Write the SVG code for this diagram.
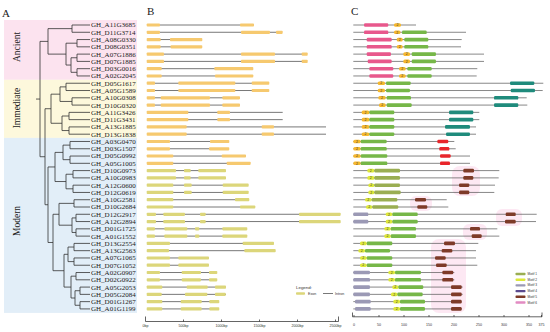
<svg xmlns="http://www.w3.org/2000/svg" width="550" height="332" viewBox="0 0 550 332">
<style>
.t{font-family:"Liberation Serif","Times New Roman",serif;fill:#222}
.pl{font-size:11px}
.gl{font-size:7px}
.cl{font-size:9.5px}
.tree{fill:none;stroke:#333;stroke-width:0.8}
.in{stroke:#555;stroke-width:0.8}
.ex1{fill:#f6c96f}
.ex2{fill:#dcd67a}
.bb{stroke:#555;stroke-width:0.7}
.ax{stroke:#222;stroke-width:0.7;fill:none}
.sm{font-family:"Liberation Sans",Arial,sans-serif;font-size:3.6px;fill:#333}
.mpk{fill:#e8588c}.mor{fill:#f5b82e}.mgr{fill:#76b748}.mte{fill:#1f8b7c}.mrd{fill:#e8252b}
.myl{fill:#dde83a}.mol{fill:#9aae52}.mgy{fill:#9b99b5}.mbr{fill:#7e3a28}.mpu{fill:#5b4a8e}.mpi{fill:#e28bc2}
.hl{fill:#fbd6ea;opacity:0.55}
.n2{font-family:"Liberation Sans",Arial,sans-serif;font-size:3.4px;fill:#333;text-anchor:middle}
</style>
<rect width="550" height="332" fill="#fff"/>

<!-- Panel A -->
<g id="panelA">
<rect x="4" y="20" width="133" height="59.8" fill="#fce3ef"/>
<rect x="4" y="79.8" width="133" height="58.1" fill="#fdf8dc"/>
<rect x="4" y="137.9" width="133" height="175" fill="#e2eef8"/>
<text class="t pl" x="2" y="17">A</text>
<text class="t cl" transform="translate(20,47) rotate(-90)" text-anchor="middle">Ancient</text>
<text class="t cl" transform="translate(20,108) rotate(-90)" text-anchor="middle">Immediate</text>
<text class="t cl" transform="translate(20,221) rotate(-90)" text-anchor="middle">Modern</text>
</g>

<g id="tree">
<path class="tree" d="M90,25H72V32.28H90 M90,39.56H77V46.84H90 M90,54.12H77V61.4H90 M90,68.68H77V75.96H90 M77,57.76H71V72.32H77 M77,43.2H66V65.04H71 M72,28.64H48V54.12H66
M90,83.24H66V90.52H90 M90,97.8H72V105.08H90 M66,86.88H60V101.44H72 M90,112.36H69V119.64H90 M90,126.92H69V134.2H90 M69,116H62V130.56H69 M60,94.16H51V123.28H62
M90,141.48H70V148.76H90 M90,156.04H70V163.32H90 M70,145.12H63V159.68H70 M90,170.6H73V177.88H90 M90,185.16H73V192.44H90 M73,174.24H66V188.8H73 M63,152.4H55V181.52H66
M90,199.72H74V207H90 M90,214.28H76V221.56H90 M90,228.84H76V236.12H90 M76,217.92H72V232.48H76 M74,203.36H59V225.2H72
M90,243.4H74V250.68H90 M90,257.96H74V265.24H90 M74,247.04H68V261.6H74 M90,272.52H76V279.8H90 M90,287.08H80V294.36H90 M90,301.64H80V308.92H90 M80,290.72H75V305.28H80 M76,276.16H71V298H75 M68,254.32H64V287.08H71
M59,214.28H53V270.7H64 M55,166.96H48V242.49H53 M51,108.72H45V204.73H48 M48,41.38H40V156.72H45 M40,99.05H36"/>
</g>

<g id="labels" class="t gl">
<text x="91" y="27.4">GH_A11G3685</text>
<text x="91" y="34.7">GH_D11G3714</text>
<text x="91" y="42">GH_A08G0330</text>
<text x="91" y="49.2">GH_D08G0351</text>
<text x="91" y="56.5">GH_A07G1886</text>
<text x="91" y="63.8">GH_D07G1885</text>
<text x="91" y="71.1">GH_D03G0016</text>
<text x="91" y="78.4">GH_A02G2045</text>
<text x="91" y="85.6">GH_D05G1617</text>
<text x="91" y="92.9">GH_A05G1589</text>
<text x="91" y="100.2">GH_A10G0308</text>
<text x="91" y="107.5">GH_D10G0320</text>
<text x="91" y="114.8">GH_A11G3426</text>
<text x="91" y="122">GH_D11G3431</text>
<text x="91" y="129.3">GH_A13G1885</text>
<text x="91" y="136.6">GH_D13G1838</text>
<text x="91" y="143.9">GH_A03G0470</text>
<text x="91" y="151.2">GH_D03G1507</text>
<text x="91" y="158.4">GH_D05G0992</text>
<text x="91" y="165.7">GH_A05G1005</text>
<text x="91" y="173">GH_D10G0973</text>
<text x="91" y="180.3">GH_A10G0983</text>
<text x="91" y="187.6">GH_A12G0600</text>
<text x="91" y="194.8">GH_D12G0619</text>
<text x="91" y="202.1">GH_A10G2581</text>
<text x="91" y="209.4">GH_D10G2684</text>
<text x="91" y="216.7">GH_D12G2917</text>
<text x="91" y="224">GH_A12G2894</text>
<text x="91" y="231.2">GH_D01G1725</text>
<text x="91" y="238.5">GH_A01G1552</text>
<text x="91" y="245.8">GH_D13G2554</text>
<text x="91" y="253.1">GH_A13G2563</text>
<text x="91" y="260.4">GH_A07G1065</text>
<text x="91" y="267.6">GH_D07G1052</text>
<text x="91" y="274.9">GH_A02G0907</text>
<text x="91" y="282.2">GH_D02G0922</text>
<text x="91" y="289.5">GH_A05G2053</text>
<text x="91" y="296.8">GH_D05G2084</text>
<text x="91" y="304">GH_D01G1267</text>
<text x="91" y="311.3">GH_A01G1199</text>
</g>

<!-- Panel B -->
<g id="panelB">
<text class="t pl" x="147" y="15">B</text>
<g id="introns">
<line class="in" x1="147" y1="25" x2="254" y2="25"/>
<line class="in" x1="147" y1="32.28" x2="282" y2="32.28"/>
<line class="in" x1="147" y1="39.56" x2="202" y2="39.56"/>
<line class="in" x1="147" y1="46.84" x2="202" y2="46.84"/>
<line class="in" x1="147" y1="54.12" x2="307" y2="54.12"/>
<line class="in" x1="147" y1="61.4" x2="307" y2="61.4"/>
<line class="in" x1="147" y1="68.68" x2="253" y2="68.68"/>
<line class="in" x1="147" y1="75.96" x2="253" y2="75.96"/>
<line class="in" x1="147" y1="83.24" x2="269" y2="83.24"/>
<line class="in" x1="147" y1="90.52" x2="269" y2="90.52"/>
<line class="in" x1="147" y1="97.8" x2="240" y2="97.8"/>
<line class="in" x1="147" y1="105.08" x2="240" y2="105.08"/>
<line class="in" x1="147" y1="112.36" x2="282.7" y2="112.36"/>
<line class="in" x1="147" y1="119.64" x2="282.7" y2="119.64"/>
<line class="in" x1="147" y1="126.92" x2="326" y2="126.92"/>
<line class="in" x1="147" y1="134.2" x2="326" y2="134.2"/>
<line class="in" x1="147" y1="141.48" x2="229" y2="141.48"/>
<line class="in" x1="147" y1="148.76" x2="229" y2="148.76"/>
<line class="in" x1="147" y1="156.04" x2="246" y2="156.04"/>
<line class="in" x1="147" y1="163.32" x2="250" y2="163.32"/>
<line class="in" x1="147" y1="170.6" x2="226" y2="170.6"/>
<line class="in" x1="147" y1="177.88" x2="226" y2="177.88"/>
<line class="in" x1="147" y1="185.16" x2="248" y2="185.16"/>
<line class="in" x1="147" y1="192.44" x2="248" y2="192.44"/>
<line class="in" x1="147" y1="199.72" x2="249" y2="199.72"/>
<line class="in" x1="147" y1="207" x2="255" y2="207"/>
<line class="in" x1="147" y1="214.28" x2="340" y2="214.28"/>
<line class="in" x1="147" y1="221.56" x2="340" y2="221.56"/>
<line class="in" x1="147" y1="228.84" x2="247" y2="228.84"/>
<line class="in" x1="147" y1="236.12" x2="247" y2="236.12"/>
<line class="in" x1="147" y1="243.4" x2="274" y2="243.4"/>
<line class="in" x1="147" y1="250.68" x2="275" y2="250.68"/>
<line class="in" x1="147" y1="257.96" x2="209" y2="257.96"/>
<line class="in" x1="147" y1="265.24" x2="209" y2="265.24"/>
<line class="in" x1="147" y1="272.52" x2="217" y2="272.52"/>
<line class="in" x1="147" y1="279.8" x2="217" y2="279.8"/>
<line class="in" x1="147" y1="287.08" x2="226" y2="287.08"/>
<line class="in" x1="147" y1="294.36" x2="226" y2="294.36"/>
<line class="in" x1="147" y1="301.64" x2="219" y2="301.64"/>
<line class="in" x1="147" y1="308.92" x2="219" y2="308.92"/>
</g>
<g id="exons1" class="ex1">
<rect x="146.7" y="23.4" width="13.3" height="3.2" rx="0.8"/><rect x="240" y="23.4" width="14" height="3.2" rx="0.8"/>
<rect x="146.7" y="30.7" width="13.3" height="3.2" rx="0.8"/><rect x="241" y="30.7" width="29" height="3.2" rx="0.8"/><rect x="276" y="30.7" width="6.7" height="3.2" rx="0.8"/>
<rect x="146.7" y="38" width="14" height="3.2" rx="0.8"/><rect x="170" y="38" width="32.3" height="3.2" rx="0.8"/>
<rect x="146.7" y="45.2" width="14" height="3.2" rx="0.8"/><rect x="170.5" y="45.2" width="31.8" height="3.2" rx="0.8"/>
<rect x="146.7" y="52.5" width="17.3" height="3.2" rx="0.8"/><rect x="241" y="52.5" width="34" height="3.2" rx="0.8"/><rect x="301.7" y="52.5" width="6" height="3.2" rx="0.8"/>
<rect x="146.7" y="59.8" width="17.3" height="3.2" rx="0.8"/><rect x="241" y="59.8" width="34" height="3.2" rx="0.8"/><rect x="301.7" y="59.8" width="6" height="3.2" rx="0.8"/>
<rect x="146.7" y="67.1" width="15" height="3.2" rx="0.8"/><rect x="214.3" y="67.1" width="39" height="3.2" rx="0.8"/>
<rect x="146.7" y="74.4" width="15" height="3.2" rx="0.8"/><rect x="215" y="74.4" width="38.3" height="3.2" rx="0.8"/>
<rect x="146.7" y="81.6" width="8.3" height="3.2" rx="0.8"/><rect x="178.3" y="81.6" width="57" height="3.2" rx="0.8"/><rect x="251.7" y="81.6" width="17.6" height="3.2" rx="0.8"/>
<rect x="146.7" y="88.9" width="8.3" height="3.2" rx="0.8"/><rect x="178.3" y="88.9" width="57" height="3.2" rx="0.8"/><rect x="251.7" y="88.9" width="17.6" height="3.2" rx="0.8"/>
<rect x="146.7" y="96.2" width="8.3" height="3.2" rx="0.8"/><rect x="160.7" y="96.2" width="49.3" height="3.2" rx="0.8"/><rect x="222.3" y="96.2" width="17.7" height="3.2" rx="0.8"/>
<rect x="146.7" y="103.5" width="8.3" height="3.2" rx="0.8"/><rect x="160.7" y="103.5" width="49.3" height="3.2" rx="0.8"/><rect x="222.3" y="103.5" width="17.7" height="3.2" rx="0.8"/>
<rect x="146.7" y="110.8" width="41.6" height="3.2" rx="0.8"/><rect x="217.3" y="110.8" width="12.7" height="3.2" rx="0.8"/>
<rect x="146.7" y="118" width="41.6" height="3.2" rx="0.8"/><rect x="217.3" y="118" width="12.7" height="3.2" rx="0.8"/>
<rect x="146.7" y="125.3" width="40" height="3.2" rx="0.8"/><rect x="261.7" y="125.3" width="12.3" height="3.2" rx="0.8"/>
<rect x="146.7" y="132.6" width="40" height="3.2" rx="0.8"/><rect x="261.7" y="132.6" width="12.3" height="3.2" rx="0.8"/>
<rect x="146.7" y="139.9" width="23.3" height="3.2" rx="0.8"/><rect x="210" y="139.9" width="19.3" height="3.2" rx="0.8"/>
<rect x="146.7" y="147.2" width="23.3" height="3.2" rx="0.8"/><rect x="209" y="147.2" width="20.3" height="3.2" rx="0.8"/>
<rect x="146.7" y="154.4" width="26.6" height="3.2" rx="0.8"/><rect x="221.7" y="154.4" width="24.3" height="3.2" rx="0.8"/>
<rect x="146.7" y="161.7" width="26.6" height="3.2" rx="0.8"/><rect x="226.7" y="161.7" width="24" height="3.2" rx="0.8"/>
</g>
<g id="exons2" class="ex2">
<rect x="146.7" y="169" width="29.3" height="3.2" rx="0.8"/><rect x="184" y="169" width="6.7" height="3.2" rx="0.8"/><rect x="198.3" y="169" width="27.7" height="3.2" rx="0.8"/>
<rect x="146.7" y="176.3" width="29.3" height="3.2" rx="0.8"/><rect x="184" y="176.3" width="6.7" height="3.2" rx="0.8"/><rect x="198.3" y="176.3" width="27.7" height="3.2" rx="0.8"/>
<rect x="146.7" y="183.6" width="26.6" height="3.2" rx="0.8"/><rect x="184" y="183.6" width="7.7" height="3.2" rx="0.8"/><rect x="222.7" y="183.6" width="26" height="3.2" rx="0.8"/>
<rect x="146.7" y="190.8" width="26.6" height="3.2" rx="0.8"/><rect x="184" y="190.8" width="7.7" height="3.2" rx="0.8"/><rect x="222.7" y="190.8" width="26" height="3.2" rx="0.8"/>
<rect x="146.7" y="198.1" width="26.6" height="3.2" rx="0.8"/><rect x="235" y="198.1" width="14.3" height="3.2" rx="0.8"/>
<rect x="146.7" y="205.4" width="26.6" height="3.2" rx="0.8"/><rect x="240" y="205.4" width="15.3" height="3.2" rx="0.8"/>
<rect x="146.7" y="212.7" width="9.3" height="3.2" rx="0.8"/><rect x="163.3" y="212.7" width="21.7" height="3.2" rx="0.8"/><rect x="200" y="212.7" width="5.7" height="3.2" rx="0.8"/><rect x="299" y="212.7" width="41.7" height="3.2" rx="0.8"/>
<rect x="146.7" y="220" width="9.3" height="3.2" rx="0.8"/><rect x="163.3" y="220" width="21.7" height="3.2" rx="0.8"/><rect x="200" y="220" width="5.7" height="3.2" rx="0.8"/><rect x="299" y="220" width="41.7" height="3.2" rx="0.8"/>
<rect x="146.7" y="227.2" width="8.3" height="3.2" rx="0.8"/><rect x="164.3" y="227.2" width="23" height="3.2" rx="0.8"/><rect x="195" y="227.2" width="4.3" height="3.2" rx="0.8"/><rect x="222.3" y="227.2" width="25" height="3.2" rx="0.8"/>
<rect x="146.7" y="234.5" width="8.3" height="3.2" rx="0.8"/><rect x="164.3" y="234.5" width="23" height="3.2" rx="0.8"/><rect x="195" y="234.5" width="4.3" height="3.2" rx="0.8"/><rect x="222.3" y="234.5" width="25" height="3.2" rx="0.8"/>
<rect x="146.7" y="241.8" width="23.3" height="3.2" rx="0.8"/><rect x="242.7" y="241.8" width="31.3" height="3.2" rx="0.8"/>
<rect x="146.7" y="249.1" width="22.3" height="3.2" rx="0.8"/><rect x="244.3" y="249.1" width="31.4" height="3.2" rx="0.8"/>
<rect x="146.7" y="256.4" width="23.3" height="3.2" rx="0.8"/><rect x="178.3" y="256.4" width="30.7" height="3.2" rx="0.8"/>
<rect x="146.7" y="263.6" width="23.3" height="3.2" rx="0.8"/><rect x="178.3" y="263.6" width="30.7" height="3.2" rx="0.8"/>
<rect x="146.7" y="270.9" width="13.3" height="3.2" rx="0.8"/><rect x="181.7" y="270.9" width="19.3" height="3.2" rx="0.8"/><rect x="209" y="270.9" width="8.3" height="3.2" rx="0.8"/>
<rect x="146.7" y="278.2" width="13.3" height="3.2" rx="0.8"/><rect x="181.7" y="278.2" width="19.3" height="3.2" rx="0.8"/><rect x="209" y="278.2" width="8.3" height="3.2" rx="0.8"/>
<rect x="146.7" y="285.5" width="15.6" height="3.2" rx="0.8"/><rect x="186.7" y="285.5" width="21" height="3.2" rx="0.8"/><rect x="215" y="285.5" width="11" height="3.2" rx="0.8"/>
<rect x="146.7" y="292.8" width="15" height="3.2" rx="0.8"/><rect x="185" y="292.8" width="22.3" height="3.2" rx="0.8"/><rect x="215" y="292.8" width="10.7" height="3.2" rx="0.8"/>
<rect x="146.7" y="300" width="15.6" height="3.2" rx="0.8"/><rect x="180.7" y="300" width="21" height="3.2" rx="0.8"/><rect x="209.3" y="300" width="10" height="3.2" rx="0.8"/>
<rect x="146.7" y="307.3" width="15.6" height="3.2" rx="0.8"/><rect x="180.7" y="307.3" width="21" height="3.2" rx="0.8"/><rect x="209.3" y="307.3" width="10" height="3.2" rx="0.8"/>
</g>
<g id="legendB">
<text class="sm" x="296" y="289" style="font-size:4.4px">Legend:</text>
<rect class="ex2" x="296" y="292.2" width="9" height="2.6" rx="0.8"/>
<text class="sm" x="308" y="295">Exon</text>
<line class="in" x1="323" y1="293.5" x2="333" y2="293.5"/>
<text class="sm" x="335" y="295">Intron</text>
</g>
<g id="axisB">
<path class="ax" d="M145.5,321.5H338.5 M145.5,316.5V321.5 M183.5,319.5V321.5 M221.5,319.5V321.5 M259.5,319.5V321.5 M297.5,319.5V321.5 M335.5,319.5V321.5 M338.5,316.5V321.5"/>
<g class="sm" text-anchor="middle">
<text x="145.5" y="327">0bp</text>
<text x="183.5" y="327">500bp</text>
<text x="221.5" y="327">1000bp</text>
<text x="259.5" y="327">1500bp</text>
<text x="297.5" y="327">2000bp</text>
<text x="335.5" y="327">2500bp</text>
</g>
</g>
</g>

<!-- Panel C -->
<g id="panelC">
<text class="t pl" x="351" y="15">C</text>
<g id="highlights">
<rect class="hl" x="452" y="166" width="28" height="30" rx="8"/>
<rect class="hl" x="410" y="196" width="22" height="15" rx="6"/>
<rect class="hl" x="496" y="209" width="26" height="17" rx="6"/>
<rect class="hl" x="463" y="224" width="24" height="16" rx="6"/>
<rect class="hl" x="431" y="239" width="35" height="74" rx="8"/>
</g>
<g id="backbones">
<line class="bb" x1="353.3" y1="25" x2="416" y2="25"/>
<line class="bb" x1="353.3" y1="32.28" x2="466" y2="32.28"/>
<line class="bb" x1="353.3" y1="39.56" x2="461.7" y2="39.56"/>
<line class="bb" x1="353.3" y1="46.84" x2="461" y2="46.84"/>
<line class="bb" x1="353.3" y1="54.12" x2="484" y2="54.12"/>
<line class="bb" x1="353.3" y1="61.4" x2="484" y2="61.4"/>
<line class="bb" x1="353.3" y1="68.68" x2="477.3" y2="68.68"/>
<line class="bb" x1="353.3" y1="75.96" x2="476.7" y2="75.96"/>
<line class="bb" x1="353.3" y1="83.24" x2="543.3" y2="83.24"/>
<line class="bb" x1="353.3" y1="90.52" x2="542.7" y2="90.52"/>
<line class="bb" x1="353.3" y1="97.8" x2="526.7" y2="97.8"/>
<line class="bb" x1="353.3" y1="105.08" x2="527.3" y2="105.08"/>
<line class="bb" x1="353.3" y1="112.36" x2="479.3" y2="112.36"/>
<line class="bb" x1="353.3" y1="119.64" x2="479.3" y2="119.64"/>
<line class="bb" x1="353.3" y1="126.92" x2="476" y2="126.92"/>
<line class="bb" x1="353.3" y1="134.2" x2="476" y2="134.2"/>
<line class="bb" x1="353.3" y1="141.48" x2="454.3" y2="141.48"/>
<line class="bb" x1="353.3" y1="148.76" x2="455.7" y2="148.76"/>
<line class="bb" x1="353.3" y1="156.04" x2="470" y2="156.04"/>
<line class="bb" x1="353.3" y1="163.32" x2="470" y2="163.32"/>
<line class="bb" x1="353.3" y1="170.6" x2="499.3" y2="170.6"/>
<line class="bb" x1="353.3" y1="177.88" x2="498.7" y2="177.88"/>
<line class="bb" x1="353.3" y1="185.16" x2="495" y2="185.16"/>
<line class="bb" x1="353.3" y1="192.44" x2="494.3" y2="192.44"/>
<line class="bb" x1="353.3" y1="199.72" x2="446.7" y2="199.72"/>
<line class="bb" x1="353.3" y1="207" x2="448.3" y2="207"/>
<line class="bb" x1="353.3" y1="214.28" x2="536.7" y2="214.28"/>
<line class="bb" x1="353.3" y1="221.56" x2="536" y2="221.56"/>
<line class="bb" x1="353.3" y1="228.84" x2="497.3" y2="228.84"/>
<line class="bb" x1="353.3" y1="236.12" x2="499.3" y2="236.12"/>
<line class="bb" x1="353.3" y1="243.4" x2="478.3" y2="243.4"/>
<line class="bb" x1="353.3" y1="250.68" x2="476" y2="250.68"/>
<line class="bb" x1="353.3" y1="257.96" x2="476" y2="257.96"/>
<line class="bb" x1="353.3" y1="265.24" x2="477.3" y2="265.24"/>
<line class="bb" x1="353.3" y1="272.52" x2="454.3" y2="272.52"/>
<line class="bb" x1="353.3" y1="279.8" x2="454.3" y2="279.8"/>
<line class="bb" x1="353.3" y1="287.08" x2="462.7" y2="287.08"/>
<line class="bb" x1="353.3" y1="294.36" x2="462.7" y2="294.36"/>
<line class="bb" x1="353.3" y1="301.64" x2="461.7" y2="301.64"/>
<line class="bb" x1="353.3" y1="308.92" x2="461.7" y2="308.92"/>
</g>
<g id="motifs">
<g class="mpk">
<rect x="364" y="23.2" width="24.3" height="3.6" rx="1.2"/>
<rect x="364" y="30.5" width="24.3" height="3.6" rx="1.2"/>
<rect x="366.7" y="37.8" width="25" height="3.6" rx="1.2"/>
<rect x="366.7" y="45" width="25" height="3.6" rx="1.2"/>
<rect x="366.7" y="52.3" width="24.3" height="3.6" rx="1.2"/>
<rect x="367.7" y="59.6" width="24" height="3.6" rx="1.2"/>
<rect x="369.3" y="66.9" width="24" height="3.6" rx="1.2"/>
<rect x="369.3" y="74.2" width="24" height="3.6" rx="1.2"/>
</g>
<g class="mor">
<rect x="394" y="23.2" width="7" height="3.6" rx="1.5"/>
<rect x="394" y="30.5" width="6.5" height="3.6" rx="1.5"/>
<rect x="396.7" y="37.8" width="6" height="3.6" rx="1.5"/>
<rect x="396.7" y="45" width="6" height="3.6" rx="1.5"/>
<rect x="403.3" y="52.3" width="6.7" height="3.6" rx="1.5"/>
<rect x="403.3" y="59.6" width="6.7" height="3.6" rx="1.5"/>
<rect x="399" y="66.9" width="6.7" height="3.6" rx="1.5"/>
<rect x="399" y="74.2" width="6.7" height="3.6" rx="1.5"/>
<rect x="377.7" y="81.4" width="7.3" height="3.6" rx="1.5"/>
<rect x="377.7" y="88.7" width="7.3" height="3.6" rx="1.5"/>
<rect x="378.3" y="96" width="7.4" height="3.6" rx="1.5"/>
<rect x="379" y="103.3" width="6.7" height="3.6" rx="1.5"/>
<rect x="361.7" y="110.6" width="7.6" height="3.6" rx="1.5"/>
<rect x="361.7" y="117.8" width="7.6" height="3.6" rx="1.5"/>
<rect x="361.7" y="125.1" width="7.6" height="3.6" rx="1.5"/>
<rect x="361.7" y="132.4" width="7.6" height="3.6" rx="1.5"/>
<rect x="353.3" y="139.7" width="7.4" height="3.6" rx="1.5"/>
<rect x="353.3" y="147" width="7.4" height="3.6" rx="1.5"/>
<rect x="353.3" y="154.2" width="7.4" height="3.6" rx="1.5"/>
<rect x="353.3" y="161.5" width="7.4" height="3.6" rx="1.5"/>
</g>
<g class="mgr">
<rect x="402" y="30.5" width="24.7" height="3.6" rx="1.2"/>
<rect x="404.3" y="37.8" width="24" height="3.6" rx="1.2"/>
<rect x="404.3" y="45" width="24" height="3.6" rx="1.2"/>
<rect x="411.7" y="52.3" width="24.3" height="3.6" rx="1.2"/>
<rect x="411.7" y="59.6" width="24.3" height="3.6" rx="1.2"/>
<rect x="407.3" y="66.9" width="24.4" height="3.6" rx="1.2"/>
<rect x="407.3" y="74.2" width="24.4" height="3.6" rx="1.2"/>
<rect x="386" y="81.4" width="24.7" height="3.6" rx="1.2"/>
<rect x="386" y="88.7" width="24" height="3.6" rx="1.2"/>
<rect x="386.7" y="96" width="24.3" height="3.6" rx="1.2"/>
<rect x="386.7" y="103.3" width="25" height="3.6" rx="1.2"/>
<rect x="369.3" y="110.6" width="25" height="3.6" rx="1.2"/>
<rect x="369.3" y="117.8" width="25" height="3.6" rx="1.2"/>
<rect x="369.3" y="125.1" width="25" height="3.6" rx="1.2"/>
<rect x="369.3" y="132.4" width="25" height="3.6" rx="1.2"/>
<rect x="360.7" y="139.7" width="26" height="3.6" rx="1.2"/>
<rect x="360.7" y="147" width="26" height="3.6" rx="1.2"/>
<rect x="360.7" y="154.2" width="26.6" height="3.6" rx="1.2"/>
<rect x="360.7" y="161.5" width="26.6" height="3.6" rx="1.2"/>
<rect x="392.3" y="212.5" width="25.4" height="3.6" rx="1.2"/>
<rect x="392.3" y="219.8" width="25.4" height="3.6" rx="1.2"/>
<rect x="390.7" y="227" width="25.3" height="3.6" rx="1.2"/>
<rect x="390.7" y="234.3" width="25.3" height="3.6" rx="1.2"/>
<rect x="366.7" y="241.6" width="25.6" height="3.6" rx="1.2"/>
<rect x="365" y="248.9" width="25" height="3.6" rx="1.2"/>
<rect x="366.7" y="256.2" width="25.6" height="3.6" rx="1.2"/>
<rect x="366.7" y="263.4" width="25.6" height="3.6" rx="1.2"/>
<rect x="395" y="270.7" width="26" height="3.6" rx="1.2"/>
<rect x="395" y="278" width="26" height="3.6" rx="1.2"/>
<rect x="398.3" y="285.3" width="25" height="3.6" rx="1.2"/>
<rect x="397.3" y="292.6" width="25.4" height="3.6" rx="1.2"/>
<rect x="400" y="299.8" width="25" height="3.6" rx="1.2"/>
<rect x="400" y="307.1" width="25" height="3.6" rx="1.2"/>
</g>
<g class="mte">
<rect x="510" y="81.4" width="24.3" height="3.6" rx="1.2"/>
<rect x="510.7" y="88.7" width="24.3" height="3.6" rx="1.2"/>
<rect x="494" y="96" width="24.3" height="3.6" rx="1.2"/>
<rect x="494" y="103.3" width="24.3" height="3.6" rx="1.2"/>
<rect x="449" y="110.6" width="24.3" height="3.6" rx="1.2"/>
<rect x="449" y="117.8" width="24.3" height="3.6" rx="1.2"/>
<rect x="445" y="125.1" width="25" height="3.6" rx="1.2"/>
<rect x="446" y="132.4" width="24" height="3.6" rx="1.2"/>
</g>
<g class="mrd">
<rect x="437.3" y="139.7" width="11" height="3.6" rx="1.2"/>
<rect x="439.3" y="147" width="10" height="3.6" rx="1.2"/>
<rect x="440" y="154.2" width="10.7" height="3.6" rx="1.2"/>
<rect x="440" y="161.5" width="10" height="3.6" rx="1.2"/>
</g>
<g class="myl">
<rect x="367.3" y="168.8" width="7" height="3.6" rx="1.5"/>
<rect x="367.3" y="176.1" width="7" height="3.6" rx="1.5"/>
<rect x="368.3" y="183.4" width="6" height="3.6" rx="1.5"/>
<rect x="368.3" y="190.6" width="6" height="3.6" rx="1.5"/>
<rect x="365" y="197.9" width="6.7" height="3.6" rx="1.5"/>
<rect x="366" y="205.2" width="6.3" height="3.6" rx="1.5"/>
<rect x="385.7" y="212.5" width="6.6" height="3.6" rx="1.5"/>
<rect x="385.7" y="219.8" width="6.6" height="3.6" rx="1.5"/>
<rect x="384.3" y="227" width="6.4" height="3.6" rx="1.5"/>
<rect x="384.3" y="234.3" width="6.4" height="3.6" rx="1.5"/>
<rect x="360" y="241.6" width="6.7" height="3.6" rx="1.5"/>
<rect x="358.3" y="248.9" width="6.7" height="3.6" rx="1.5"/>
<rect x="360" y="256.2" width="6.7" height="3.6" rx="1.5"/>
<rect x="360" y="263.4" width="6.7" height="3.6" rx="1.5"/>
<rect x="388.3" y="270.7" width="6.7" height="3.6" rx="1.5"/>
<rect x="388.3" y="278" width="6.7" height="3.6" rx="1.5"/>
<rect x="392.3" y="285.3" width="6" height="3.6" rx="1.5"/>
<rect x="391" y="292.6" width="6.3" height="3.6" rx="1.5"/>
<rect x="393.3" y="299.8" width="6.7" height="3.6" rx="1.5"/>
<rect x="393.3" y="307.1" width="6.7" height="3.6" rx="1.5"/>
</g>
<g class="mol">
<rect x="374.3" y="168.8" width="25.7" height="3.6" rx="1.2"/>
<rect x="374.3" y="176.1" width="25.7" height="3.6" rx="1.2"/>
<rect x="374.3" y="183.4" width="25.7" height="3.6" rx="1.2"/>
<rect x="374.3" y="190.6" width="26.4" height="3.6" rx="1.2"/>
<rect x="371.7" y="197.9" width="25.6" height="3.6" rx="1.2"/>
<rect x="372.3" y="205.2" width="26" height="3.6" rx="1.2"/>
</g>
<g class="mbr">
<rect x="463.3" y="168.8" width="10.7" height="3.6" rx="1.2"/>
<rect x="463.3" y="176.1" width="10" height="3.6" rx="1.2"/>
<rect x="459" y="183.4" width="10.3" height="3.6" rx="1.2"/>
<rect x="459" y="190.6" width="10.3" height="3.6" rx="1.2"/>
<rect x="415" y="197.9" width="11" height="3.6" rx="1.2"/>
<rect x="417.3" y="205.2" width="10" height="3.6" rx="1.2"/>
<rect x="505.7" y="212.5" width="10" height="3.6" rx="1.2"/>
<rect x="505" y="219.8" width="10.7" height="3.6" rx="1.2"/>
<rect x="470" y="227" width="10" height="3.6" rx="1.2"/>
<rect x="471.7" y="234.3" width="10" height="3.6" rx="1.2"/>
<rect x="444" y="241.6" width="11" height="3.6" rx="1.2"/>
<rect x="441.7" y="248.9" width="10.6" height="3.6" rx="1.2"/>
<rect x="435" y="256.2" width="10.7" height="3.6" rx="1.2"/>
<rect x="436" y="263.4" width="10.7" height="3.6" rx="1.2"/>
<rect x="442.3" y="270.7" width="11" height="3.6" rx="1.2"/>
<rect x="442.3" y="278" width="11" height="3.6" rx="1.2"/>
<rect x="451" y="285.3" width="10.7" height="3.6" rx="1.2"/>
<rect x="451" y="292.6" width="10.7" height="3.6" rx="1.2"/>
<rect x="451" y="299.8" width="10.7" height="3.6" rx="1.2"/>
<rect x="451" y="307.1" width="10.7" height="3.6" rx="1.2"/>
</g>
<g class="mgy">
<rect x="353.3" y="212.5" width="15" height="3.6" rx="1.2"/>
<rect x="353.3" y="219.8" width="15" height="3.6" rx="1.2"/>
<rect x="353.3" y="270.7" width="16.7" height="3.6" rx="1.2"/>
<rect x="353.3" y="278" width="16.7" height="3.6" rx="1.2"/>
<rect x="353.3" y="285.3" width="16.7" height="3.6" rx="1.2"/>
<rect x="353.3" y="292.6" width="16.7" height="3.6" rx="1.2"/>
<rect x="355" y="299.8" width="15.7" height="3.6" rx="1.2"/>
<rect x="355" y="307.1" width="15.7" height="3.6" rx="1.2"/>
</g>
</g>
<g id="motifnums" class="n2">
<text x="397.5" y="26.2">2</text><text x="397.3" y="33.5">2</text><text x="399.7" y="40.8">2</text><text x="399.7" y="48">2</text>
<text x="406.7" y="55.3">2</text><text x="406.7" y="62.6">2</text><text x="402.3" y="69.9">2</text><text x="402.3" y="77.2">2</text>
<text x="381.3" y="84.4">2</text><text x="381.3" y="91.7">2</text><text x="382" y="99">2</text><text x="382.3" y="106.3">2</text>
<text x="365.5" y="113.6">2</text><text x="365.5" y="120.8">2</text><text x="365.5" y="128.1">2</text><text x="365.5" y="135.4">2</text>
<text x="357" y="142.7">2</text><text x="357" y="150">2</text><text x="357" y="157.2">2</text><text x="357" y="164.5">2</text>
<text x="370.8" y="171.8">2</text><text x="370.8" y="179.1">2</text><text x="371.3" y="186.4">2</text><text x="371.3" y="193.6">2</text>
<text x="368.3" y="200.9">2</text><text x="369.2" y="208.2">2</text><text x="389" y="215.5">2</text><text x="389" y="222.8">2</text>
<text x="387.5" y="230">2</text><text x="387.5" y="237.3">2</text><text x="363.3" y="244.6">2</text><text x="361.7" y="251.9">2</text>
<text x="363.3" y="259.2">2</text><text x="363.3" y="266.4">2</text><text x="391.7" y="273.7">2</text><text x="391.7" y="281">2</text>
<text x="395.3" y="288.3">2</text><text x="394.2" y="295.6">2</text><text x="396.7" y="302.8">2</text><text x="396.7" y="310.1">2</text>
</g>
<g id="legendC">
<rect class="mol" x="515.5" y="272.8" width="10" height="2.4" rx="0.8"/><text class="sm" x="527.5" y="275" style="font-size:3.2px">Motif 1</text>
<rect class="myl" x="515.5" y="278.5" width="10" height="2.4" rx="0.8"/><text class="sm" x="527.5" y="280.7" style="font-size:3.2px">Motif 2</text>
<rect class="mgy" x="515.5" y="284.2" width="10" height="2.4" rx="0.8"/><text class="sm" x="527.5" y="286.4" style="font-size:3.2px">Motif 3</text>
<rect class="mpu" x="515.5" y="289.9" width="10" height="2.4" rx="0.8"/><text class="sm" x="527.5" y="292.1" style="font-size:3.2px">Motif 4</text>
<rect class="mbr" x="515.5" y="295.6" width="10" height="2.4" rx="0.8"/><text class="sm" x="527.5" y="297.8" style="font-size:3.2px">Motif 5</text>
<rect class="mpi" x="515.5" y="301.3" width="10" height="2.4" rx="0.8"/><text class="sm" x="527.5" y="303.5" style="font-size:3.2px">Motif 6</text>
</g>
<g id="axisC">
<path class="ax" d="M352.5,316.8H542 M352.5,312.5V316.8 M354,315V316.8 M379,315V316.8 M404,315V316.8 M429,315V316.8 M454,315V316.8 M479,315V316.8 M504,315V316.8 M529,315V316.8 M541.5,315V316.8 M542,312.5V316.8"/>
<g class="sm" text-anchor="middle">
<text x="354" y="326">0</text>
<text x="379" y="326">50</text>
<text x="404" y="326">100</text>
<text x="429" y="326">150</text>
<text x="454" y="326">200</text>
<text x="479" y="326">250</text>
<text x="504" y="326">300</text>
<text x="529" y="326">350</text>
<text x="541.5" y="326">375</text>
</g>
</g>
</g>
</svg>
